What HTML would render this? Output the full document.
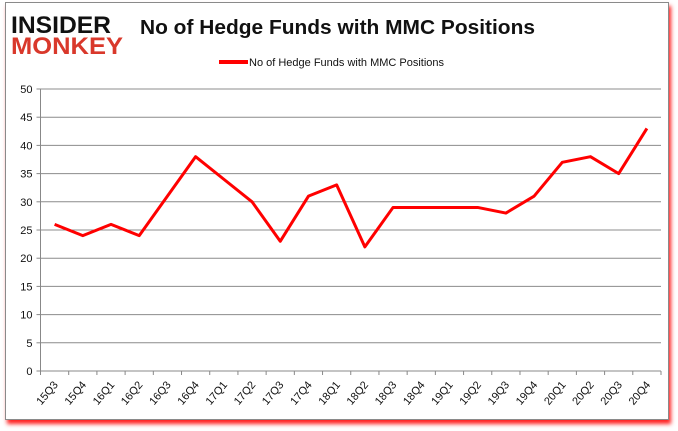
<!DOCTYPE html>
<html><head><meta charset="utf-8"><style>
body{margin:0;width:678px;height:431px;background:#fff;overflow:hidden;font-family:"Liberation Sans",sans-serif}
#frame{position:absolute;left:5px;top:2px;width:662px;height:416px;border:1px solid #8a8a8a;background:#fff;box-shadow:2px 4px 4px #f22}
</style></head><body>
<div id="frame"></div>
<svg width="678" height="431" style="position:absolute;left:0;top:0">
<g font-family="Liberation Sans" font-weight="bold">
<text x="11" y="33" font-size="24" fill="#111" textLength="100" lengthAdjust="spacingAndGlyphs">INSIDER</text>
<text x="11" y="54" font-size="24" fill="#d9382b" textLength="112" lengthAdjust="spacingAndGlyphs">MONKEY</text>
</g>
<text x="140" y="34" font-size="20" font-weight="bold" fill="#111" textLength="395" lengthAdjust="spacingAndGlyphs">No of Hedge Funds with MMC Positions</text>
<line x1="219" y1="62" x2="248" y2="62" stroke="#f00" stroke-width="4"/>
<text x="249" y="66" font-size="11" fill="#111">No of Hedge Funds with MMC Positions</text>
<g id="grid"></g><g id="axes"></g><g id="series"></g>
</svg>
<script>
const categories=["15Q3","15Q4","16Q1","16Q2","16Q3","16Q4","17Q1","17Q2","17Q3","17Q4","18Q1","18Q2","18Q3","18Q4","19Q1","19Q2","19Q3","19Q4","20Q1","20Q2","20Q3","20Q4"];
const values=[26,24,26,24,31,38,34,30,23,31,33,22,29,29,29,29,28,31,37,38,35,43];
const yTicks=[0,5,10,15,20,25,30,35,40,45,50];
const NS="http://www.w3.org/2000/svg";
const L=40.5,R=661,T=89,B=371,yMax=50;
const bw=(R-L)/categories.length;
const x=i=>L+bw*(i+0.5);
const y=v=>B-(v/yMax)*(B-T);
function mk(t,a,p){const e=document.createElementNS(NS,t);for(const k in a)e.setAttribute(k,a[k]);document.getElementById(p).appendChild(e);return e;}
yTicks.forEach(v=>{
 const g=mk("line",{x1:L,x2:R,y1:y(v),y2:y(v),stroke:v===0?"#888":"#8c8c8c","stroke-width":1},"grid");
 
 
 const tk=mk("line",{x1:L-4,x2:L,y1:y(v),y2:y(v),stroke:"#888"},"axes");
 
 
 const t=mk("text",{x:L-8,y:y(v)+4,"font-size":11,"text-anchor":"end",fill:"#111"},"axes");
 t.textContent=v;
 
 
});
const ya=mk("line",{x1:L,x2:L,y1:T,y2:B,stroke:"#888"},"axes");


for(let i=0;i<=categories.length;i++){
 const tk=mk("line",{x1:L+bw*i,x2:L+bw*i,y1:B,y2:B+4,stroke:"#888"},"axes");
 
 
}
categories.forEach((c,i)=>{
 const t=mk("text",{x:x(i)+4,y:B+14,"font-size":11,"text-anchor":"end",fill:"#111",transform:`rotate(-50 ${x(i)+4} ${B+14})`},"axes");
 t.textContent=c;
 
 
});
const line=mk("polyline",{points:values.map((v,i)=>x(i)+","+y(v)).join(" "),fill:"none",stroke:"#f00","stroke-width":3,"stroke-linejoin":"round"},"series");


</script>
</body></html>
